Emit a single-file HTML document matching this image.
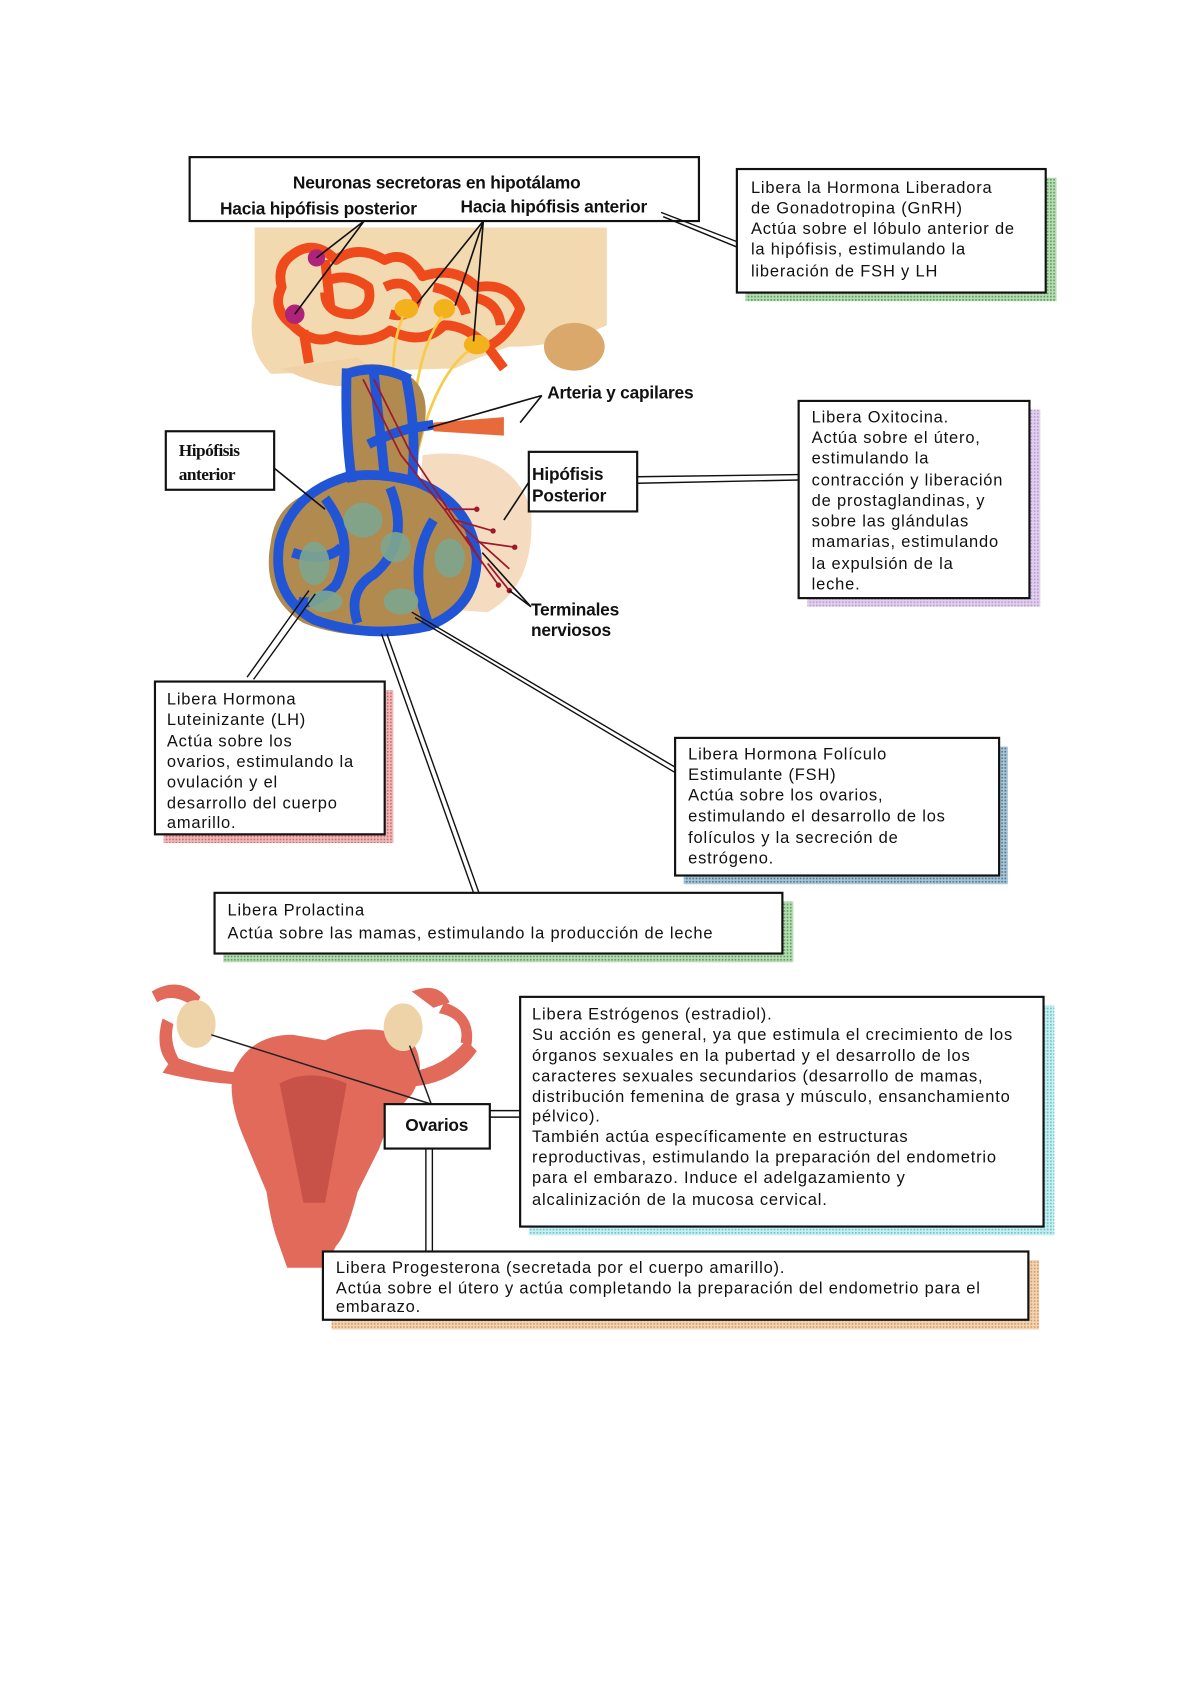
<!DOCTYPE html>
<html><head><meta charset="utf-8"><style>
html,body{margin:0;padding:0;background:#fff;width:1192px;height:1686px;overflow:hidden}
svg{display:block}
text{font-family:"Liberation Sans",sans-serif;fill:#111}
.t{font-size:15.2px;letter-spacing:0.75px}
.b{font-weight:bold;font-size:16px;letter-spacing:-0.2px}
</style></head><body>
<svg width="1192" height="1686" viewBox="0 0 1100 1556" preserveAspectRatio="none" xmlns="http://www.w3.org/2000/svg">
<rect width="1100" height="1556" fill="#fff"/>

<!-- ===== Anatomy: hypothalamus ===== -->
<path d="M235,210 L560,210 L560,300 Q520,320 470,320 Q440,330 420,340 L250,345 Q225,320 235,280 Z" fill="#f3d9b0"/>
<ellipse cx="530" cy="320" rx="28" ry="22" fill="#d9a86a"/>
<path d="M260,340 Q320,370 350,345 L330,330 Z" fill="#f0d2a6"/>
<g fill="none" stroke="#ee4a1c" stroke-width="9" stroke-linejoin="round">
<path d="M270,235 Q290,220 310,240 Q330,225 355,240 Q375,230 390,255 Q420,245 440,265 Q470,260 480,285 Q470,310 450,320 Q430,300 410,300 Q390,320 360,305 Q340,320 310,310 Q290,320 270,300 Q250,285 260,265 Q255,245 270,235 Z"/>
<path d="M300,260 Q320,250 340,265 Q345,285 325,290 Q300,290 300,270"/>
<path d="M355,265 Q375,255 385,275 Q380,295 360,290"/>
<path d="M400,265 Q425,270 430,290"/>
<path d="M440,275 Q460,280 462,300"/>
<path d="M280,305 L285,335"/>
<path d="M450,320 L465,340"/>
<path d="M300,240 L305,285"/>
</g>
<circle cx="292" cy="238" r="8" fill="#b0237a"/>
<circle cx="272" cy="290" r="9" fill="#b0237a"/>
<g fill="#f3b21c"><ellipse cx="375" cy="285" rx="11" ry="9"/><ellipse cx="410" cy="285" rx="10" ry="9"/><ellipse cx="440" cy="318" rx="12" ry="9"/></g>
<g fill="none" stroke="#f6cc4a" stroke-width="2.5">
<path d="M372,292 Q355,330 370,400"/><path d="M408,292 Q380,330 380,420"/><path d="M432,324 Q400,350 385,420"/>
</g>

<path d="M390,420 Q470,410 490,470 Q495,540 450,565 L380,560 Z" fill="#f5dcc0"/>
<path d="M320,340 Q350,330 375,345 Q400,360 390,400 L380,440 Q430,460 440,510 Q450,560 400,580 Q330,595 280,575 Q240,550 250,500 Q255,460 300,450 L320,440 Q315,390 320,340 Z" fill="#b18a4f"/>
<g fill="none" stroke="#2155d6" stroke-width="9" stroke-linejoin="round">
<path d="M320,340 Q318,400 325,445"/><path d="M345,345 Q350,390 355,440"/><path d="M375,350 Q385,400 380,445"/>
<path d="M320,345 Q350,335 378,350"/>
<path d="M320,440 Q270,455 258,500 Q250,550 290,572 Q340,590 395,578 Q440,560 440,515 Q435,465 385,445 Q350,435 320,440 Z"/>
<path d="M300,460 Q330,500 310,540 Q290,560 275,555"/>
<path d="M360,450 Q380,500 345,530 Q320,545 330,575"/>
<path d="M400,480 Q375,520 395,575"/>
<path d="M270,510 Q300,520 315,505"/>
<path d="M340,410 Q360,400 380,395 L400,392"/>
</g>
<g fill="#7fa68f" opacity="0.9">
<ellipse cx="290" cy="520" rx="14" ry="20"/><ellipse cx="335" cy="480" rx="18" ry="16"/><ellipse cx="365" cy="505" rx="14" ry="14"/>
<ellipse cx="415" cy="515" rx="14" ry="18"/><ellipse cx="300" cy="555" rx="16" ry="10"/><ellipse cx="370" cy="555" rx="16" ry="12"/>
</g>
<path d="M400,390 L465,385 L465,402 L400,398 Z" fill="#e86a3a"/>
<g fill="none" stroke="#a0182a" stroke-width="1.6">
<path d="M335,350 L370,420 L410,470 L460,540"/><path d="M345,350 L380,420 L420,480 L470,525"/>
<path d="M410,470 L440,470"/><path d="M420,480 L455,490"/><path d="M440,500 L475,505"/><path d="M450,520 L470,545"/><path d="M430,495 L445,520"/>
</g>
<g fill="#a0182a"><circle cx="440" cy="470" r="2.5"/><circle cx="455" cy="490" r="2.5"/><circle cx="475" cy="505" r="2.5"/><circle cx="470" cy="545" r="2.5"/><circle cx="460" cy="540" r="2.5"/></g>

<g stroke="#111" stroke-width="1.5" fill="none">
<path d="M336,204 L292,238 M336,204 L272,290 M446,204 L385,280 M446,204 L420,282 M446,204 L437,315"/>
<path d="M500,365 L395,395 M500,365 L480,390"/>
<path d="M253,432 L300,470"/>
<path d="M488,445 L465,480"/>
<path d="M490,560 L445,510 M490,560 L470,545"/>
</g>

<defs>
<pattern id="pg" width="3" height="3" patternUnits="userSpaceOnUse"><rect width="3" height="3" fill="#b7dcb4"/><rect width="1.5" height="1.5" fill="#5e9d5c"/></pattern>
<pattern id="pp" width="3" height="3" patternUnits="userSpaceOnUse"><rect width="3" height="3" fill="#e2d0ee"/><rect width="1.5" height="1.5" fill="#b79bd0"/></pattern>
<pattern id="pr" width="3" height="3" patternUnits="userSpaceOnUse"><rect width="3" height="3" fill="#f0b8b8"/><rect width="1.5" height="1.5" fill="#cc6b6b"/></pattern>
<pattern id="pb" width="3" height="3" patternUnits="userSpaceOnUse"><rect width="3" height="3" fill="#a9c4d4"/><rect width="1.5" height="1.5" fill="#4d7690"/></pattern>
<pattern id="pc" width="3" height="3" patternUnits="userSpaceOnUse"><rect width="3" height="3" fill="#c7eef0"/><rect width="1.5" height="1.5" fill="#6cc4c8"/></pattern>
<pattern id="po" width="3" height="3" patternUnits="userSpaceOnUse"><rect width="3" height="3" fill="#f2d4b4"/><rect width="1.5" height="1.5" fill="#d49a64"/></pattern>
</defs>

<rect x="175" y="145" width="470" height="59" fill="#fff" stroke="#111" stroke-width="2"/>
<text class="b" x="403" y="174" text-anchor="middle">Neuronas secretoras en hipotálamo</text>
<text class="b" x="203" y="198">Hacia  hipófisis posterior</text>
<text class="b" x="425" y="196">Hacia hipófisis anterior</text>

<rect x="688" y="164" width="287" height="114" fill="url(#pg)"/>
<rect x="680" y="156" width="285" height="114" fill="#fff" stroke="#111" stroke-width="2"/>
<text class="t" x="693" y="178">Libera la Hormona Liberadora</text><text class="t" x="693" y="197">de Gonadotropina (GnRH)</text><text class="t" x="693" y="216">Actúa sobre el lóbulo anterior de</text><text class="t" x="693" y="235">la hipófisis, estimulando la</text><text class="t" x="693" y="255">liberación de FSH y LH</text>
<path d="M610,196 L680,223 M612,200 L680,228" stroke="#111" stroke-width="1.3"/>

<text class="b" x="505" y="368">Arteria y capilares</text>

<rect x="153" y="398" width="100" height="54" fill="#fff" stroke="#111" stroke-width="2"/>
<text x="165" y="421" style="font-family:'Liberation Serif',serif;font-weight:bold;font-size:16px;letter-spacing:-0.5px">Hipófisis</text>
<text x="165" y="443" style="font-family:'Liberation Serif',serif;font-weight:bold;font-size:16px;letter-spacing:-0.5px">anterior</text>

<rect x="488" y="417" width="100" height="55" fill="#fff" stroke="#111" stroke-width="2"/>
<text class="b" x="491" y="443">Hipófisis</text><text class="b" x="491" y="463">Posterior</text>
<path d="M588,440 L737,438 M588,446 L737,443" stroke="#111" stroke-width="1.3"/>

<rect x="745" y="378" width="215" height="182" fill="url(#pp)"/>
<rect x="737" y="370" width="213" height="182" fill="#fff" stroke="#111" stroke-width="2"/>
<text class="t" x="749" y="390">Libera Oxitocina.</text><text class="t" x="749" y="409">Actúa sobre el útero,</text><text class="t" x="749" y="428">estimulando la</text><text class="t" x="749" y="448">contracción y liberación</text><text class="t" x="749" y="467">de prostaglandinas, y</text><text class="t" x="749" y="486">sobre las glándulas</text><text class="t" x="749" y="505">mamarias, estimulando</text><text class="t" x="749" y="525">la expulsión de la</text><text class="t" x="749" y="544">leche.</text>

<text class="b" x="490" y="568">Terminales</text><text class="b" x="490" y="587">nerviosos</text>

<path d="M228,625 L285,545 M234,627 L291,548" stroke="#111" stroke-width="1.3"/>
<path d="M352,585 L437,824 M357,585 L442,824" stroke="#111" stroke-width="1.3"/>
<path d="M380,565 L623,708 M383,570 L623,713" stroke="#111" stroke-width="1.3"/>

<rect x="151" y="637" width="212" height="141" fill="url(#pr)"/>
<rect x="143" y="629" width="212" height="141" fill="#fff" stroke="#111" stroke-width="2"/>
<text class="t" x="154" y="650">Libera Hormona</text><text class="t" x="154" y="669">Luteinizante (LH)</text><text class="t" x="154" y="689">Actúa sobre los</text><text class="t" x="154" y="708">ovarios, estimulando la</text><text class="t" x="154" y="727">ovulación y el</text><text class="t" x="154" y="746">desarrollo del cuerpo</text><text class="t" x="154" y="764">amarillo.</text>

<rect x="631" y="689" width="299" height="127" fill="url(#pb)"/>
<rect x="623" y="681" width="299" height="127" fill="#fff" stroke="#111" stroke-width="2"/>
<text class="t" x="635" y="701">Libera Hormona Folículo</text><text class="t" x="635" y="720">Estimulante (FSH)</text><text class="t" x="635" y="739">Actúa sobre los ovarios,</text><text class="t" x="635" y="758">estimulando el desarrollo de los</text><text class="t" x="635" y="778">folículos y la secreción de</text><text class="t" x="635" y="797">estrógeno.</text>

<rect x="206" y="832" width="526" height="56" fill="url(#pg)"/>
<rect x="198" y="824" width="524" height="56" fill="#fff" stroke="#111" stroke-width="2"/>
<text class="t" x="210" y="845">Libera Prolactina</text><text class="t" x="210" y="866">Actúa sobre las mamas, estimulando la producción de leche</text>

<!-- ===== Uterus ===== -->
<g fill="#e26a5a">
<path d="M300,960 Q340,940 380,960 Q395,985 380,1010 Q360,1030 350,1060 L330,1100 Q320,1140 310,1150 L300,1170 L265,1170 L258,1150 Q250,1130 246,1100 L225,1050 Q210,1015 215,990 Q230,955 270,955 Z"/>
<path d="M160,975 Q210,995 260,990 L262,1000 Q210,1005 150,990 Z"/>
<path d="M375,990 Q410,985 430,960 L440,970 Q420,1000 378,1003 Z"/>
<path d="M150,940 Q140,975 165,990 L170,985 Q155,965 160,945 Z"/>
<path d="M410,925 Q440,935 435,965 L425,962 Q430,940 405,935 Z"/>
<path d="M140,915 Q165,900 185,920 L180,930 Q160,915 145,925 Z"/>
<path d="M380,915 Q405,905 415,925 L400,930 Z"/>
</g>
<path d="M258,1000 Q285,985 320,1000 L300,1110 L280,1110 Z" fill="#b8423a" opacity="0.6"/>
<ellipse cx="181" cy="945" rx="18" ry="22" fill="#efd3a8"/>
<ellipse cx="372" cy="948" rx="18" ry="22" fill="#efd3a8"/>
<path d="M195,955 L398,1019 M398,1019 L378,965" stroke="#222" stroke-width="1.4" fill="none"/>

<rect x="355" y="1019" width="97" height="41" fill="#fff" stroke="#111" stroke-width="2"/>
<text class="b" x="403" y="1044" text-anchor="middle">Ovarios</text>
<path d="M452,1025 L480,1025 M452,1031 L480,1031" stroke="#111" stroke-width="1.3"/>
<path d="M393,1060 L393,1155 M399,1060 L399,1155" stroke="#111" stroke-width="1.3"/>

<rect x="488" y="928" width="485" height="212" fill="url(#pc)"/>
<rect x="480" y="920" width="483" height="212" fill="#fff" stroke="#111" stroke-width="2"/>
<text class="t" x="491" y="941">Libera Estrógenos (estradiol).</text><text class="t" x="491" y="960">Su acción es general, ya que estimula el crecimiento de los</text><text class="t" x="491" y="979">órganos sexuales en la pubertad y el desarrollo de los</text><text class="t" x="491" y="998">caracteres sexuales secundarios (desarrollo de mamas,</text><text class="t" x="491" y="1017">distribución femenina de grasa y músculo, ensanchamiento</text><text class="t" x="491" y="1035">pélvico).</text><text class="t" x="491" y="1054">También actúa específicamente en estructuras</text><text class="t" x="491" y="1073">reproductivas, estimulando la preparación del endometrio</text><text class="t" x="491" y="1092">para el embarazo. Induce el adelgazamiento y</text><text class="t" x="491" y="1112">alcalinización de la mucosa cervical.</text>

<rect x="306" y="1163" width="653" height="64" fill="url(#po)"/>
<rect x="298" y="1155" width="651" height="63" fill="#fff" stroke="#111" stroke-width="2"/>
<text class="t" x="310" y="1175">Libera Progesterona (secretada por el cuerpo amarillo).</text><text class="t" x="310" y="1194">Actúa sobre el útero y actúa completando la preparación del endometrio para el</text><text class="t" x="310" y="1211">embarazo.</text>
</svg>
</body></html>
